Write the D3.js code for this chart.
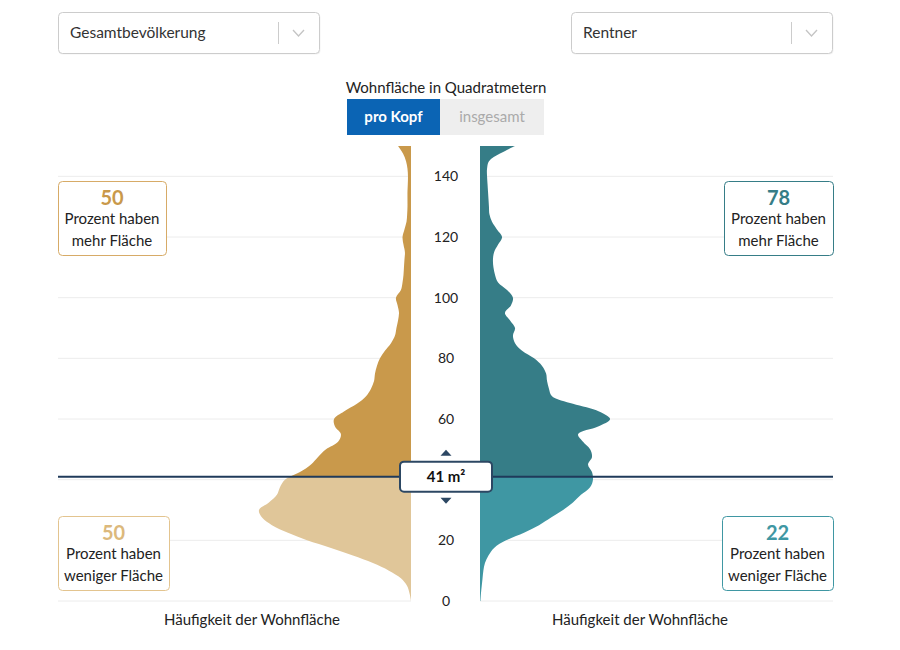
<!DOCTYPE html>
<html>
<head>
<meta charset="utf-8">
<script src="https://cdn.jsdelivr.net/npm/d3@7"></script>
<style>
  body { margin: 0; background: #fff; font-family: Lato, "Open Sans", sans-serif; }
</style>
</head>
<body>
<div class="canvas"></div>
<script>
// Wohnfläche (m² pro Kopf) stützstellen
const flaeche = [0, 2.5, 5, 7.5, 10, 12.5, 15, 17.5, 20, 22.5, 25, 27.5, 30, 32.5, 35, 37.5, 40, 42.5, 45, 47.5,
  50, 52.5, 55, 57.5, 60, 62.5, 65, 67.5, 70, 72.5, 75, 77.5, 80, 82.5, 85, 87.5, 90, 92.5, 95, 97.5,
  100, 102.5, 105, 107.5, 110, 112.5, 115, 117.5, 120, 122.5, 125, 127.5, 130, 132.5, 135, 137.5, 140, 142.5, 145, 147.5, 150];

// Häufigkeit Gesamtbevölkerung
const gesamt = [0, 0.9, 2.5, 6.3, 13.8, 23.8, 36.3, 50, 65, 76.9, 86.9, 93.1, 95, 88.8, 83.8, 81.9, 78.8, 69.4, 62.5, 58.1,
  53.1, 45.6, 43.8, 47.5, 48.1, 41.9, 33.8, 28.1, 25, 23.1, 22.5, 21.3, 19.4, 16.3, 12.5, 10, 9.1, 8.1, 7.5, 8.4,
  9.4, 6.3, 5.3, 4.7, 4.4, 4.1, 3.8, 4.7, 5.3, 4.1, 2.8, 2.4, 2.2, 2.2, 2.2, 2, 1.9, 2.2, 3.1, 5, 8.1];

// Häufigkeit Rentner
const rentner = [0.3, 0.6, 1.1, 1.6, 2.1, 3.1, 5.3, 8.8, 16.3, 27.5, 36.9, 44.4, 51.9, 58.1, 63.1, 68.8, 70.6, 70, 67.5, 70,
  68.8, 64.4, 61.3, 73.8, 81.3, 74.4, 58.1, 45, 43.1, 41.9, 41.3, 38.8, 33.8, 26.3, 21.9, 20.6, 21.9, 18.8, 15.6, 19.4,
  20.6, 16.9, 11.3, 9.4, 8.4, 8.1, 8.8, 11.3, 13.8, 10.6, 7.5, 5.9, 5.6, 5.3, 5, 4.7, 4.4, 4.4, 5.6, 12.5, 21.9];

const tickWerte = [0, 20, 40, 60, 80, 100, 120, 140];
const median = 41;
const anteile = { gesamtMehr: 50, gesamtWeniger: 50, rentnerMehr: 78, rentnerWeniger: 22 };

const width = 900, height = 650;
const left = { x0: 58, base: 411 };
const right = { base: 480, x1: 833 };
const axisX = 446;

const svg = d3.select(".canvas").append("svg")
  .attr("width", width).attr("height", height)
  .style("font-family", "Lato, 'Open Sans', sans-serif");

const y = d3.scaleLinear().domain([0, 150]).range([601, 146]);
const x = d3.scaleLinear().domain([0, 100]).range([0, 160]);

const col = {
  gDark: "#c9994b", gLight: "#e0c699",
  rDark: "#367d87", rLight: "#3f97a3",
  navy: "#1f3a5a", text: "#222"
};

// dropdowns
const dropdown = (x0, label) => {
  const g = svg.append("g").attr("transform", `translate(${x0}, 12)`);
  g.append("rect").attr("x", 0.5).attr("y", 1.5).attr("width", 262).attr("height", 41)
    .attr("rx", 4).attr("fill", "#000").attr("opacity", 0.05);
  g.append("rect").attr("x", 0.5).attr("y", 0.5).attr("width", 261).attr("height", 41)
    .attr("rx", 4).attr("fill", "#fff").attr("stroke", "#cccccc");
  g.append("text").attr("x", 12).attr("y", 26).attr("font-size", 15.5).attr("fill", "#333").text(label);
  g.append("line").attr("x1", 220.5).attr("x2", 220.5).attr("y1", 10).attr("y2", 32).attr("stroke", "#cccccc");
  g.append("path").attr("d", "M235,18 L240.5,24 L246,18").attr("fill", "none")
    .attr("stroke", "#c4c4c4").attr("stroke-width", 1.3);
};
dropdown(58, "Gesamtbevölkerung");
dropdown(571, "Rentner");

// title + toggle
svg.append("text").attr("x", axisX).attr("y", 93).attr("text-anchor", "middle")
  .attr("font-size", 15).attr("fill", col.text).text("Wohnfläche in Quadratmetern");
svg.append("rect").attr("x", 347).attr("y", 99).attr("width", 93).attr("height", 36).attr("fill", "#0b64b4");
svg.append("text").attr("x", 393.5).attr("y", 122).attr("text-anchor", "middle")
  .attr("font-size", 15).attr("font-weight", "bold").attr("fill", "#fff").text("pro Kopf");
svg.append("rect").attr("x", 440).attr("y", 99).attr("width", 104).attr("height", 36).attr("fill", "#eeeeee");
svg.append("text").attr("x", 492).attr("y", 122).attr("text-anchor", "middle")
  .attr("font-size", 15).attr("fill", "#aaaaaa").text("insgesamt");

// gridlines
const grid = svg.append("g");
tickWerte.forEach(t => {
  grid.append("line").attr("x1", left.x0).attr("x2", left.base).attr("y1", y(t)).attr("y2", y(t))
    .attr("stroke", "#ececec");
  grid.append("line").attr("x1", right.base).attr("x2", right.x1).attr("y1", y(t)).attr("y2", y(t))
    .attr("stroke", "#ececec");
});

// clip paths above/below median
const defs = svg.append("defs");
defs.append("clipPath").attr("id", "oben").append("rect")
  .attr("x", 0).attr("y", 0).attr("width", width).attr("height", y(median));
defs.append("clipPath").attr("id", "unten").append("rect")
  .attr("x", 0).attr("y", y(median)).attr("width", width).attr("height", height - y(median));

const data = flaeche.map((f, i) => ({ f, g: gesamt[i], r: rentner[i] }));

const areaLeft = d3.area()
  .curve(d3.curveCatmullRom.alpha(0.5))
  .y(d => y(d.f))
  .x0(left.base)
  .x1(d => left.base - x(d.g));

const areaRight = d3.area()
  .curve(d3.curveCatmullRom.alpha(0.5))
  .y(d => y(d.f))
  .x0(right.base)
  .x1(d => right.base + x(d.r));

svg.append("path").datum(data).attr("d", areaLeft).attr("fill", col.gDark).attr("clip-path", "url(#oben)");
svg.append("path").datum(data).attr("d", areaLeft).attr("fill", col.gLight).attr("clip-path", "url(#unten)");
svg.append("path").datum(data).attr("d", areaRight).attr("fill", col.rDark).attr("clip-path", "url(#oben)");
svg.append("path").datum(data).attr("d", areaRight).attr("fill", col.rLight).attr("clip-path", "url(#unten)");

// axis labels (the one hidden under the median label is left out)
svg.append("g").selectAll("text").data(tickWerte.filter(t => Math.abs(t - median) > 8)).join("text")
  .attr("x", axisX).attr("y", d => y(d) + 5).attr("text-anchor", "middle")
  .attr("font-size", 14).attr("fill", col.text).text(d => d);

// median line + label
svg.append("line").attr("x1", left.x0).attr("x2", right.x1)
  .attr("y1", y(median)).attr("y2", y(median)).attr("stroke", col.navy).attr("stroke-width", 2);
const my = y(median);
svg.append("path").attr("d", `M${axisX - 5.5},${my - 21} L${axisX + 5.5},${my - 21} L${axisX},${my - 27} Z`)
  .attr("fill", "#2c4763");
svg.append("path").attr("d", `M${axisX - 5.5},${my + 21} L${axisX + 5.5},${my + 21} L${axisX},${my + 27} Z`)
  .attr("fill", "#2c4763");
svg.append("rect").attr("x", 400).attr("y", my - 15).attr("width", 92).attr("height", 30).attr("rx", 4)
  .attr("fill", "#fff").attr("stroke", "#2c4763").attr("stroke-width", 2);
svg.append("text").attr("x", axisX).attr("y", my + 5.5).attr("text-anchor", "middle")
  .attr("font-size", 15).attr("font-weight", "bold").attr("fill", "#111").text(`${median} m²`);

// info boxes
const infoBox = (bx, by, bw, stroke, numCol, num, line2) => {
  const g = svg.append("g").attr("transform", `translate(${bx}, ${by})`);
  g.append("rect").attr("x", 0.5).attr("y", 0.5).attr("width", bw).attr("height", 74).attr("rx", 4)
    .attr("fill", "#fff").attr("stroke", stroke);
  g.append("text").attr("x", bw / 2).attr("y", 24).attr("text-anchor", "middle")
    .attr("font-size", 20).attr("font-weight", "bold").attr("fill", numCol).text(num);
  g.append("text").attr("x", bw / 2).attr("y", 43).attr("text-anchor", "middle")
    .attr("font-size", 15).attr("fill", col.text).text("Prozent haben");
  g.append("text").attr("x", bw / 2).attr("y", 65).attr("text-anchor", "middle")
    .attr("font-size", 15).attr("fill", col.text).text(line2);
};
infoBox(58, 181, 108, "#d7ab67", col.gDark, anteile.gesamtMehr, "mehr Fläche");
infoBox(58, 516, 111, "#e3c48f", "#dcb97c", anteile.gesamtWeniger, "weniger Fläche");
infoBox(724, 181, 109, col.rDark, col.rDark, anteile.rentnerMehr, "mehr Fläche");
infoBox(722, 516, 111, col.rLight, col.rLight, anteile.rentnerWeniger, "weniger Fläche");

// bottom labels
svg.append("text").attr("x", 252).attr("y", 625).attr("text-anchor", "middle")
  .attr("font-size", 15).attr("fill", col.text).text("Häufigkeit der Wohnfläche");
svg.append("text").attr("x", 640).attr("y", 625).attr("text-anchor", "middle")
  .attr("font-size", 15).attr("fill", col.text).text("Häufigkeit der Wohnfläche");
</script>
</body>
</html>
